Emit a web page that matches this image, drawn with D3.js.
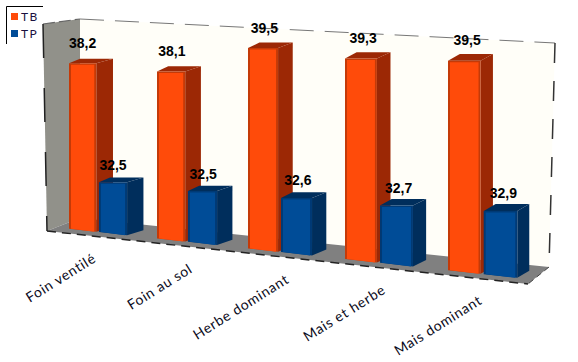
<!DOCTYPE html>
<html>
<head>
<meta charset="utf-8">
<script src="https://cdn.jsdelivr.net/npm/d3@7"></script>
<style>
  html, body { margin: 0; padding: 0; background: #fff; }
  svg { display: block; }
</style>
</head>
<body>
<div id="wrapper"></div>
<script>
const categories = ["Foin ventilé", "Foin au sol", "Herbe dominant", "Mais et herbe", "Mais dominant"]
const seriesNames = ["TB", "TP"]
const tbValues = [38.2, 38.1, 39.5, 39.3, 39.5]
const tpValues = [32.5, 32.5, 32.6, 32.7, 32.9]

function drawChart() {
  const width = 578
  const height = 362

  const svg = d3.select("#wrapper")
    .append("svg")
      .attr("width", width)
      .attr("height", height)

  const line = d3.line()
  const poly = (g, pts, fill) => g.append("path")
      .attr("d", line(pts) + "Z")
      .attr("fill", fill)

  // the box: two walls and the floor
  const wallTopLeft = [80, 19]
  const wallTopRight = [555, 43]
  const wallBottomLeft = [80, 218]
  const wallBottomRight = [549, 267]
  const sideTop = [43, 24]
  const floorLeft = [47, 231]
  const floorRight = [528, 284]

  const room = svg.append("g")
  poly(room, [wallTopLeft, wallTopRight, wallBottomRight, wallBottomLeft], "#fffef8")
  poly(room, [sideTop, wallTopLeft, wallBottomLeft, floorLeft], "#91918a")
  poly(room, [floorLeft, wallBottomLeft, wallBottomRight, floorRight], "#808080")

  const edge = (a, b, dash, color, w) => room.append("line")
      .attr("x1", a[0]).attr("y1", a[1])
      .attr("x2", b[0]).attr("y2", b[1])
      .attr("stroke", color)
      .attr("stroke-width", w)
      .attr("stroke-dasharray", dash)

  edge(sideTop, wallTopLeft, "12 4", "#666", 1.2)
  edge(wallTopLeft, wallTopRight, "24 11", "#777", 1)
  edge(floorLeft, floorRight, "9 6", "#222", 1.5)
  edge(sideTop, floorLeft, "34 30", "#222", 1.5)
  edge(wallTopRight, wallBottomRight, "20 18", "#333", 1.5)
  edge(wallBottomRight, floorRight, "6 4", "#444", 1)

  // scales, everything gets a bit bigger towards the right side
  const xScale = d3.scaleLinear()
    .domain([0, 1, 2, 3, 4, 5])
    .range([69, 157, 248, 345, 448, 553])
  const baseScale = d3.scaleLinear().domain([71, 482]).range([229, 274])
  const unitScale = d3.scaleLinear().domain([70, 515]).range([20.3, 22.5])
  const depthRight = d3.scaleLinear().domain([70, 515]).range([17, 12])
  const depthLeft = d3.scaleLinear().domain([70, 515]).range([11, 12])
  const depthY = d3.scaleLinear().domain([70, 515]).range([-4.5, -7])
  const yMin = 30

  const barWidth = 0.31
  const series = [
    { name: seriesNames[0], values: tbValues, offset: 0, front: "#ff4b0a", edge: "#c43a08", side: "#9c2805" },
    { name: seriesNames[1], values: tpValues, offset: 0.34, front: "#004c97", edge: "#003a75", side: "#002e5c" },
  ]

  const bars = svg.append("g")
  const labels = []

  categories.forEach((cat, i) => {
    series.forEach(s => {
      const v = s.values[i]
      const x0 = xScale(i + s.offset)
      const x1 = xScale(i + s.offset + barWidth + (s.offset ? 0.01 : 0))
      const xm = (x0 + x1) / 2
      const top = baseScale(xm) - unitScale(xm) * (v - yMin)
      const b0 = baseScale(x0)
      const b1 = baseScale(x1)
      const dxR = depthRight(x1)
      const dxL = depthLeft(x0)
      const dy = depthY(x1)

      // side
      poly(bars, [[x1, top], [x1 + dxR, top + dy], [x1 + dxR, b1 + dy], [x1, b1]], s.side)
      // top
      poly(bars, [[x0, top], [x0 + dxL, top + dy], [x1 + dxR, top + dy], [x1, top]], s.side)
      // front, with darker strips on the sides
      poly(bars, [[x0, top], [x1, top], [x1, b1], [x0, b0]], s.edge)
      poly(bars, [[x0 + 2, top + 1.5], [x1 - 2, top + 1.5], [x1 - 2, b1], [x0 + 2, b0]], s.front)

      labels.push({ x: xm + i * 0.7, y: top - (s.offset ? 12.5 : 15.5), text: d3.format(".1f")(v).replace(".", ",") })
    })
  })

  // value labels
  svg.append("g").selectAll("text")
    .data(labels)
    .join("text")
      .attr("x", d => d.x)
      .attr("y", d => d.y)
      .attr("text-anchor", "middle")
      .attr("font-family", "Liberation Sans")
      .attr("font-weight", "bold")
      .attr("font-size", 14)
      .attr("fill", "#000")
      .text(d => d.text)

  // category labels
  const labelX = d3.scalePoint().domain(categories).range([97, 483])
  const labelY = d3.scalePoint().domain(categories).range([261, 303])
  svg.append("g").selectAll("text")
    .data(categories)
    .join("text")
      .attr("transform", d => `translate(${labelX(d)},${labelY(d)}) rotate(-32)`)
      .attr("text-anchor", "end")
      .attr("font-family", "Lato")
      .attr("font-size", 14)
      .attr("letter-spacing", 0.7)
      .attr("fill", "#0a0a20")
      .text(d => d)

  // legend
  const legend = svg.append("g")
  legend.append("path")
      .attr("d", "M43,6.5H6.5V44")
      .attr("fill", "none")
      .attr("stroke", "#000")
  const legendY = d3.scalePoint().domain(seriesNames).range([16, 33])
  series.forEach(s => {
    legend.append("rect")
        .attr("x", 11)
        .attr("y", legendY(s.name) - 3)
        .attr("width", 7)
        .attr("height", 7)
        .attr("fill", s.front)
    legend.append("text")
        .attr("x", 21)
        .attr("y", legendY(s.name) + 4.5)
        .attr("font-family", "Lato")
        .attr("font-size", 12)
        .attr("letter-spacing", 1.5)
        .attr("fill", "#1a1040")
        .text(s.name)
  })
}
drawChart()
</script>
</body>
</html>
